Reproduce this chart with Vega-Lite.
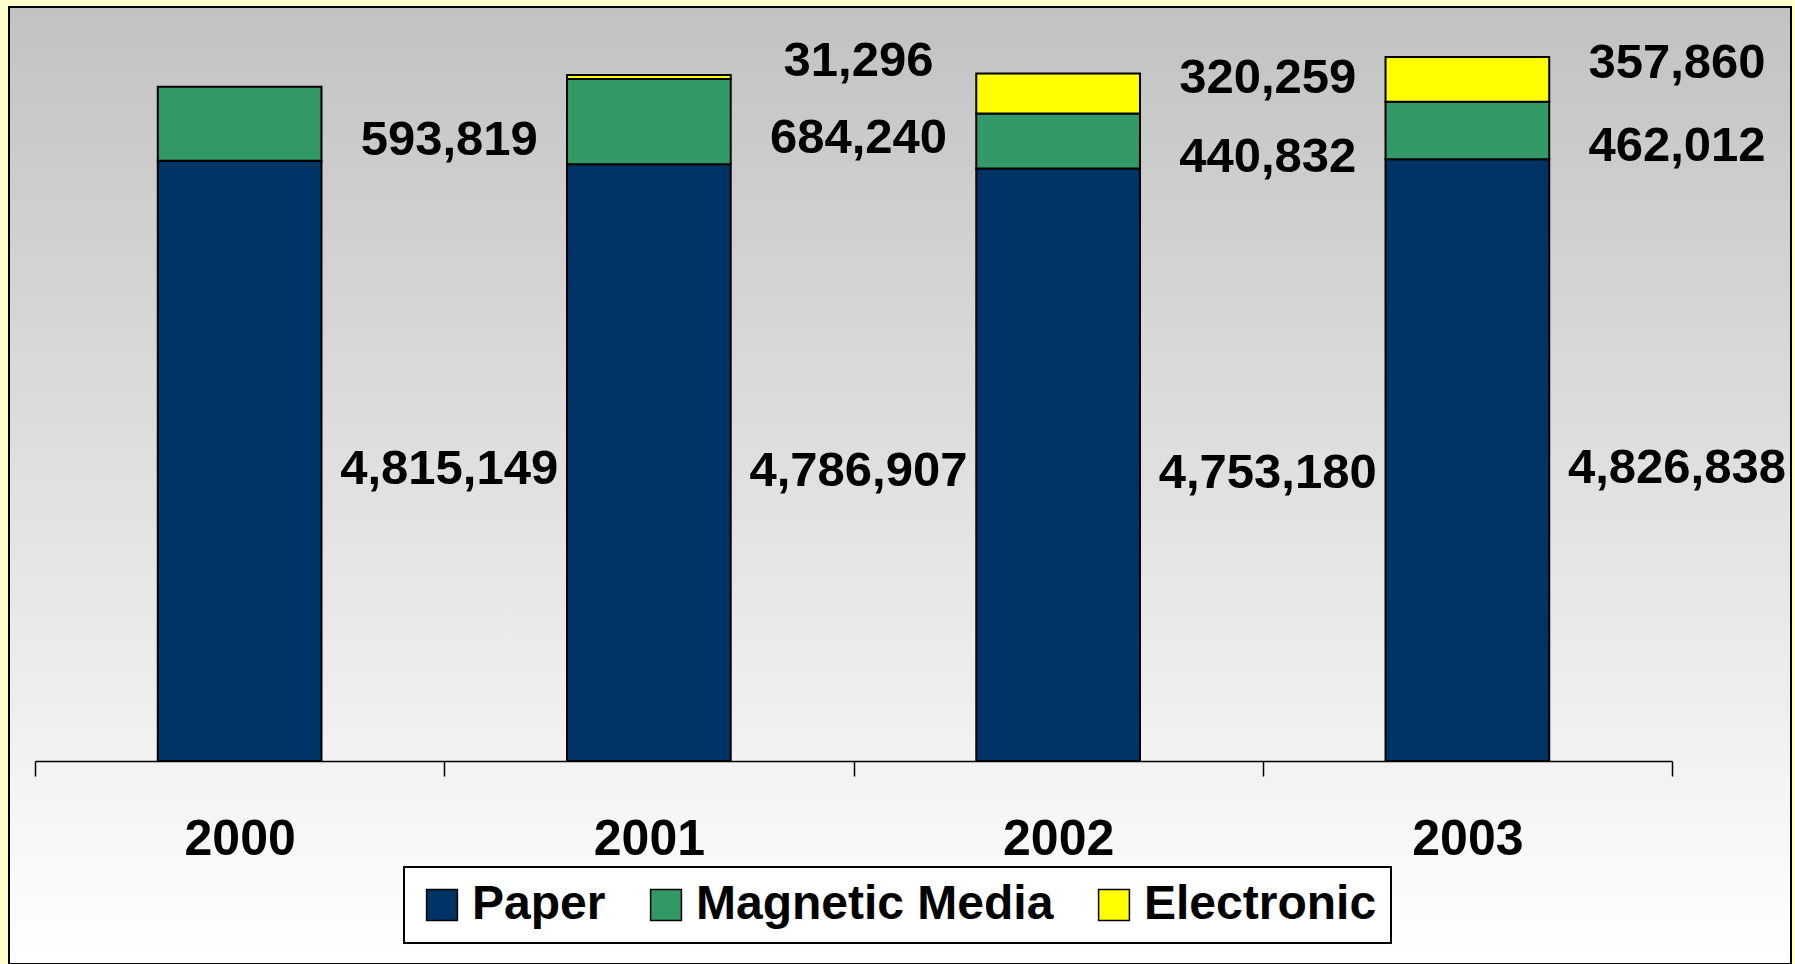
{
  "$schema": "https://vega.github.io/schema/vega-lite/v6.json",
  "width": 1782,
  "height": 957,
  "autosize": {"type": "none"},
  "padding": {"left": 9, "top": 7, "right": 4, "bottom": 0},
  "background": "#FFFFCC",
  "config": {
    "font": "Liberation Sans",
    "view": {
      "stroke": "#000000",
      "strokeWidth": 2,
      "fill": {
        "gradient": "linear",
        "x1": 0, "y1": 0, "x2": 0, "y2": 1,
        "stops": [
          {"offset": 0, "color": "#C2C2C2"},
          {"offset": 1, "color": "#FFFFFF"}
        ]
      }
    }
  },
  "data": {
    "values": [
      {"year": "2000", "series": "Paper", "count": 4815149},
      {"year": "2000", "series": "Magnetic Media", "count": 593819},
      {"year": "2001", "series": "Paper", "count": 4786907},
      {"year": "2001", "series": "Magnetic Media", "count": 684240},
      {"year": "2001", "series": "Electronic", "count": 31296},
      {"year": "2002", "series": "Paper", "count": 4753180},
      {"year": "2002", "series": "Magnetic Media", "count": 440832},
      {"year": "2002", "series": "Electronic", "count": 320259},
      {"year": "2003", "series": "Paper", "count": 4826838},
      {"year": "2003", "series": "Magnetic Media", "count": 462012},
      {"year": "2003", "series": "Electronic", "count": 357860}
    ]
  },
  "layer": [
    {
      "mark": {"type": "bar", "stroke": "#000000", "strokeWidth": 2, "width": {"band": 0.4}},
      "encoding": {
        "x": {
          "field": "year", "type": "nominal",
          "scale": {"range": [26, 1663], "paddingInner": 0, "paddingOuter": 0},
          "axis": {
            "orient": "bottom",
            "offset": -203,
            "title": null,
            "labelAngle": 0,
            "labelFont": "Liberation Sans",
            "labelFontSize": 50,
            "labelFontWeight": "bold",
            "labelColor": "#000000",
            "labelBaseline": "middle",
            "labelPadding": 63,
            "tickBand": "extent",
            "tickSize": 15,
            "tickColor": "#000000",
            "tickWidth": 1.5,
            "domainColor": "#000000",
            "domainWidth": 1.5,
            "grid": false
          }
        },
        "y": {
          "field": "count", "type": "quantitative", "stack": "zero",
          "scale": {"domain": [0, 6000000], "range": [754, 6], "nice": false},
          "axis": null
        },
        "order": {"field": "series", "sort": "descending"},
        "color": {
          "field": "series", "type": "nominal",
          "scale": {"domain": ["Paper", "Magnetic Media", "Electronic"], "range": ["#003366", "#339966", "#FFFF00"]},
          "legend": {
            "orient": "none",
            "legendX": 395,
            "legendY": 860,
            "direction": "horizontal",
            "title": null,
            "fillColor": "#FFFFFF",
            "strokeColor": "#000000",
            "padding": 14,
            "columnPadding": 36,
            "labelOffset": 6,
            "symbolType": "square",
            "symbolSize": 950,
            "symbolStrokeColor": "#000000",
            "symbolStrokeWidth": 1.5,
            "symbolOpacity": 1,
            "labelFont": "Liberation Sans",
            "labelFontSize": 48,
            "labelFontWeight": "bold",
            "labelColor": "#000000",
            "labelLimit": 600,
            "encode": {"legend": {"update": {"strokeWidth": {"value": 2}}}}
          }
        }
      }
    },
    {
      "transform": [
        {"stack": "count", "groupby": ["year"], "sort": [{"field": "series", "order": "descending"}], "as": ["y0", "y1"]},
        {"fold": ["y0", "y1"], "as": ["k", "pos"]},
        {"aggregate": [{"op": "mean", "field": "pos", "as": "mid"}], "groupby": ["year", "series", "count"]},
        {"filter": "datum.series === 'Paper'"}
      ],
      "mark": {"type": "text", "font": "Liberation Sans", "fontSize": 49, "fontWeight": "bold", "color": "#000000", "align": "center", "baseline": "middle", "dy": 8, "dx": 5},
      "encoding": {
        "x": {"field": "year", "type": "nominal", "bandPosition": 1},
        "y": {"field": "mid", "type": "quantitative", "scale": {"domain": [0, 6000000], "range": [754, 6], "nice": false}},
        "text": {"field": "count", "type": "quantitative", "format": ","}
      }
    },
    {
      "transform": [
        {"stack": "count", "groupby": ["year"], "sort": [{"field": "series", "order": "descending"}], "as": ["y0", "y1"]},
        {"fold": ["y0", "y1"], "as": ["k", "pos"]},
        {"aggregate": [{"op": "mean", "field": "pos", "as": "mid"}], "groupby": ["year", "series", "count"]},
        {"filter": "datum.series === 'Magnetic Media'"}
      ],
      "mark": {"type": "text", "font": "Liberation Sans", "fontSize": 49, "fontWeight": "bold", "color": "#000000", "align": "center", "baseline": "middle", "dy": 16, "dx": 5},
      "encoding": {
        "x": {"field": "year", "type": "nominal", "bandPosition": 1},
        "y": {"field": "mid", "type": "quantitative", "scale": {"domain": [0, 6000000], "range": [754, 6], "nice": false}},
        "text": {"field": "count", "type": "quantitative", "format": ","}
      }
    },
    {
      "transform": [
        {"stack": "count", "groupby": ["year"], "sort": [{"field": "series", "order": "descending"}], "as": ["y0", "y1"]},
        {"fold": ["y0", "y1"], "as": ["k", "pos"]},
        {"aggregate": [{"op": "mean", "field": "pos", "as": "mid"}], "groupby": ["year", "series", "count"]},
        {"filter": "datum.series === 'Electronic'"}
      ],
      "mark": {"type": "text", "font": "Liberation Sans", "fontSize": 49, "fontWeight": "bold", "color": "#000000", "align": "center", "baseline": "middle", "dy": -16, "dx": 5},
      "encoding": {
        "x": {"field": "year", "type": "nominal", "bandPosition": 1},
        "y": {"field": "mid", "type": "quantitative", "scale": {"domain": [0, 6000000], "range": [754, 6], "nice": false}},
        "text": {"field": "count", "type": "quantitative", "format": ","}
      }
    }
  ]
}
